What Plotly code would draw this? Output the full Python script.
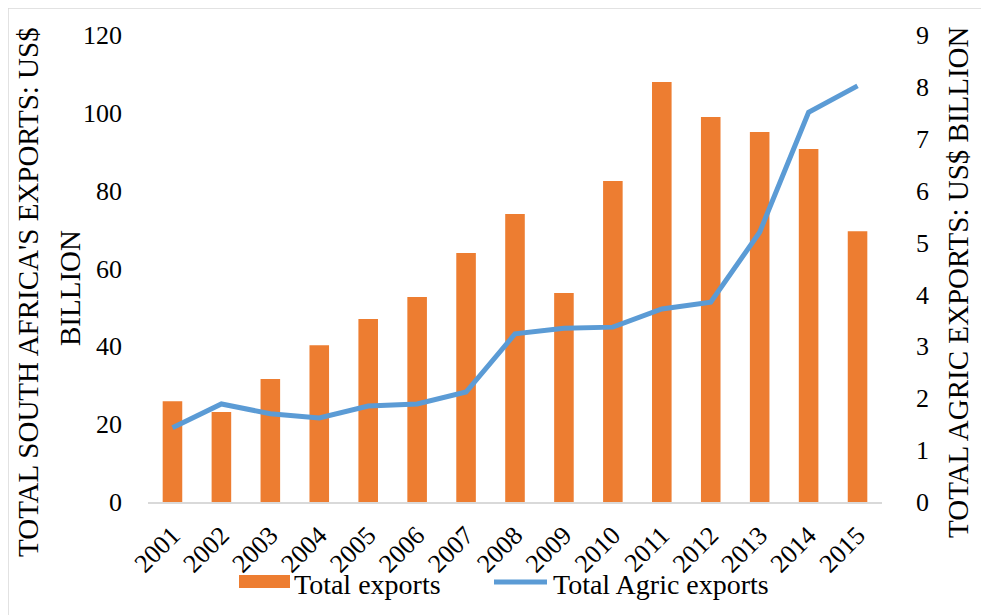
import plotly.graph_objects as go

years = ["2001", "2002", "2003", "2004", "2005", "2006", "2007", "2008",
         "2009", "2010", "2011", "2012", "2013", "2014", "2015"]
total_exports = [25.9, 23.1, 31.6, 40.3, 47.0, 52.7, 64.0, 74.0,
                 53.7, 82.5, 107.9, 98.9, 95.1, 90.7, 69.6]
agric_exports = [1.43, 1.89, 1.70, 1.62, 1.85, 1.89, 2.12, 3.24,
                 3.35, 3.37, 3.72, 3.85, 5.20, 7.51, 8.02]
series_names = ["Total exports", "Total Agric exports"]

FONT = "Liberation Serif, Times New Roman, serif"
BAR_COLOR = "#ED7D31"
LINE_COLOR = "#5B9BD5"

# page coords -> paper coords (page has 8px body margin)
def px(X):
    return (X - 148) / 734

def py(Y):
    return (502 - Y) / 467

fig = go.Figure()
fig.add_trace(go.Bar(x=years, y=total_exports, name=series_names[0],
                     marker=dict(color=BAR_COLOR, line=dict(width=0)),
                     yaxis="y", showlegend=False))
fig.add_trace(go.Scatter(x=years, y=agric_exports, name=series_names[1],
                         mode="lines", line=dict(color=LINE_COLOR, width=5),
                         yaxis="y2", showlegend=False))

title_font = dict(size=29, family=FONT, color="#000000")

fig.update_layout(
    width=981, height=607,
    margin=dict(l=140, r=107, t=27, b=113),
    paper_bgcolor="white", plot_bgcolor="white",
    font=dict(family=FONT, size=26, color="#000000"),
    bargap=0.6,
    showlegend=False,
    xaxis=dict(type="category", tickangle=-45, showgrid=False,
               showline=True, linecolor="#D9D9D9", linewidth=1.5,
               ticks="", ticklabelstandoff=6,
               tickfont=dict(size=26, family=FONT, color="#000000")),
    yaxis=dict(range=[0, 120], dtick=20, showgrid=False, zeroline=False,
               showline=False, ticks="", ticklabelstandoff=25,
               tickfont=dict(size=26, family=FONT, color="#000000")),
    yaxis2=dict(range=[0, 9], dtick=1, overlaying="y", side="right",
                showgrid=False, zeroline=False, showline=False, ticks="",
                ticklabelstandoff=33,
                tickfont=dict(size=26, family=FONT, color="#000000")),
    annotations=[
        dict(text="TOTAL SOUTH AFRICA'S EXPORTS: US$",
             xref="paper", yref="paper", x=px(28), y=py(292),
             xanchor="center", yanchor="middle", textangle=-90,
             showarrow=False, font=title_font),
        dict(text="BILLION",
             xref="paper", yref="paper", x=px(70), y=py(288),
             xanchor="center", yanchor="middle", textangle=-90,
             showarrow=False, font=title_font),
        dict(text="TOTAL AGRIC EXPORTS: US$ BILLION",
             xref="paper", yref="paper", x=px(958), y=py(282),
             xanchor="center", yanchor="middle", textangle=-90,
             showarrow=False, font=title_font),
        dict(text=series_names[0], xref="paper", yref="paper",
             x=px(292), y=py(584), xanchor="left", yanchor="middle",
             showarrow=False, font=dict(size=28, family=FONT, color="#000000")),
        dict(text=series_names[1], xref="paper", yref="paper",
             x=px(551), y=py(584), xanchor="left", yanchor="middle",
             showarrow=False, font=dict(size=28, family=FONT, color="#000000")),
    ],
    shapes=[
        dict(type="rect", xref="paper", yref="paper",
             x0=px(8), x1=px(1100), y0=py(700), y1=py(8),
             line=dict(color="#D9D9D9", width=1.5), fillcolor="rgba(0,0,0,0)",
             layer="below"),
        dict(type="rect", xref="paper", yref="paper",
             x0=px(239), x1=px(290), y0=py(588), y1=py(575),
             line=dict(width=0), fillcolor=BAR_COLOR),
        dict(type="line", xref="paper", yref="paper",
             x0=px(494), x1=px(547), y0=py(582), y1=py(582),
             line=dict(color=LINE_COLOR, width=5)),
    ],
)

fig.write_html("out.html")
